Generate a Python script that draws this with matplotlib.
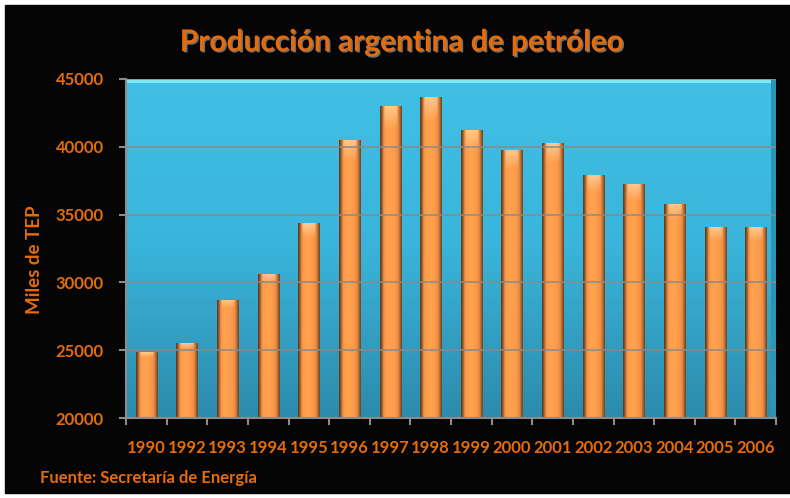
import matplotlib
matplotlib.use("Agg")
import matplotlib.pyplot as plt
import numpy as np
from matplotlib.patches import Rectangle
from matplotlib.colors import LinearSegmentedColormap
import matplotlib.patheffects as pe

years = ['1990', '1992', '1993', '1994', '1995', '1996', '1997', '1998',
         '1999', '2000', '2001', '2002', '2003', '2004', '2005', '2006']
produccion = [24850, 25520, 28710, 30630, 34380, 40530, 43040, 43690,
              41270, 39790, 40310, 37950, 37280, 35800, 34110, 34080]

title = 'Producción argentina de petróleo'
ylabel = 'Miles de TEP'
fuente = 'Fuente: Secretaría de Energía'

orange_txt = '#E46C0A'
plt.rcParams['font.family'] = ['Lato', 'DejaVu Sans']

W, H = 790, 498
fig = plt.figure(figsize=(W / 100, H / 100), dpi=100)
fig.patch.set_facecolor('white')

# black chart background with a soft grey bevel on top / bottom
bg = fig.add_axes([0, 0, 1, 1], zorder=-10)
bg.axis('off')
bg.add_patch(Rectangle((5, 5), W - 5, H - 10, color='#050505'))
bevel = np.linspace(0.30, 0.02, 20).reshape(-1, 1)
bg.imshow(bevel, cmap='gray', vmin=0, vmax=1, extent=(5, W, 14, 5), aspect='auto')
bg.imshow(bevel[::-1], cmap='gray', vmin=0, vmax=1, extent=(5, W, H - 5, H - 12), aspect='auto')
bg.set_xlim(0, W)
bg.set_ylim(H, 0)

# plot area in pixels
x0, x1, y0, y1 = 126, 776, 79, 418
ax = fig.add_axes([x0 / W, 1 - y1 / H, (x1 - x0) / W, (y1 - y0) / H])
ax.set_facecolor('none')

# blue gradient background of the plot area
grad = LinearSegmentedColormap.from_list('bg', ['#2C8BAC', '#3AB4DA', '#40C0E6'])
ax.imshow(np.linspace(0, 1, 200).reshape(-1, 1), cmap=grad, origin='lower',
          extent=(-0.5, len(years) - 0.5, 20000, 45000), aspect='auto', zorder=0)
ax.axhspan(44700, 45000, color='#7FE6F6', zorder=0.5, lw=0)
ax.axvspan(len(years) - 0.62, len(years) - 0.5, color='#2E94B6', zorder=0.5, lw=0)

ax.yaxis.grid(True, color='#8A8A8A', lw=1.1, zorder=1)
ax.set_axisbelow(False)
ax.set_yticks(range(20000, 45001, 5000))

bars = ax.bar(range(len(years)), produccion, width=0.52, color='#FF9B4B',
              zorder=2, lw=0)

# cylinder shading on each bar
prof = np.array([0.4, 0.62, 0.9, 1.0, 1.02, 1.04, 1.05, 1.04, 1.02, 1.0,
                 0.98, 0.95, 0.88, 0.7, 0.48])
base = np.array([255, 155, 75]) / 255.0
for b in bars:
    bx, bw, bh = b.get_x(), b.get_width(), b.get_height()
    n = 60
    img = np.ones((n, len(prof), 3))
    for i, p in enumerate(prof):
        img[:, i, :] = np.clip(base * p, 0, 1)
    # lighter cap at the top
    cap = 4
    for k in range(cap):
        t = 1 - k / cap
        img[n - 1 - k, 3:-3, :] = img[n - 1 - k, 3:-3, :] * (1 - 0.6 * t) + np.array([1, 0.88, 0.7]) * 0.6 * t
    im = ax.imshow(img, origin='lower', extent=(bx, bx + bw, 20000, b.get_y() + bh),
                   aspect='auto', zorder=2.5, interpolation='bilinear')
    im.set_clip_path(b)
ax.set_xlim(-0.5, len(years) - 0.5)
ax.set_ylim(20000, 45000)

for s in ['top', 'right']:
    ax.spines[s].set_visible(False)
for s in ['left', 'bottom']:
    ax.spines[s].set_color('#8C8C8C')
    ax.spines[s].set_linewidth(1.5)
    ax.spines[s].set_zorder(3)

ax.set_xticks(range(len(years)))
ax.set_xticklabels(years)
ax.set_xticks(np.arange(-0.5, len(years)), minor=True)
ax.tick_params(axis='x', which='major', length=0, pad=16)
ax.tick_params(axis='x', which='minor', length=5, color='#8C8C8C', width=1.5)
ax.tick_params(axis='y', length=5, color='#8C8C8C', width=1.5, pad=11)
for lab in ax.get_xticklabels() + ax.get_yticklabels():
    lab.set_color(orange_txt)
    lab.set_fontweight('bold')
    lab.set_fontsize(12)

fig.text(34 / W, 1 - 260 / H, ylabel, rotation=90, color=orange_txt,
         fontweight='bold', fontsize=13.5, ha='center', va='center')
fig.text(40 / W, 1 - 478 / H, fuente, color=orange_txt, fontweight='bold',
         fontsize=12, ha='left', va='center')
fig.text(402 / W, 1 - 42 / H, title, color=orange_txt, fontweight='bold',
         fontsize=21.5, ha='center', va='center',
         path_effects=[pe.withSimplePatchShadow(offset=(1, -1), shadow_rgbFace='#7a7a7a', alpha=0.9)])

fig.savefig('out.png', dpi=100, facecolor=fig.get_facecolor())
